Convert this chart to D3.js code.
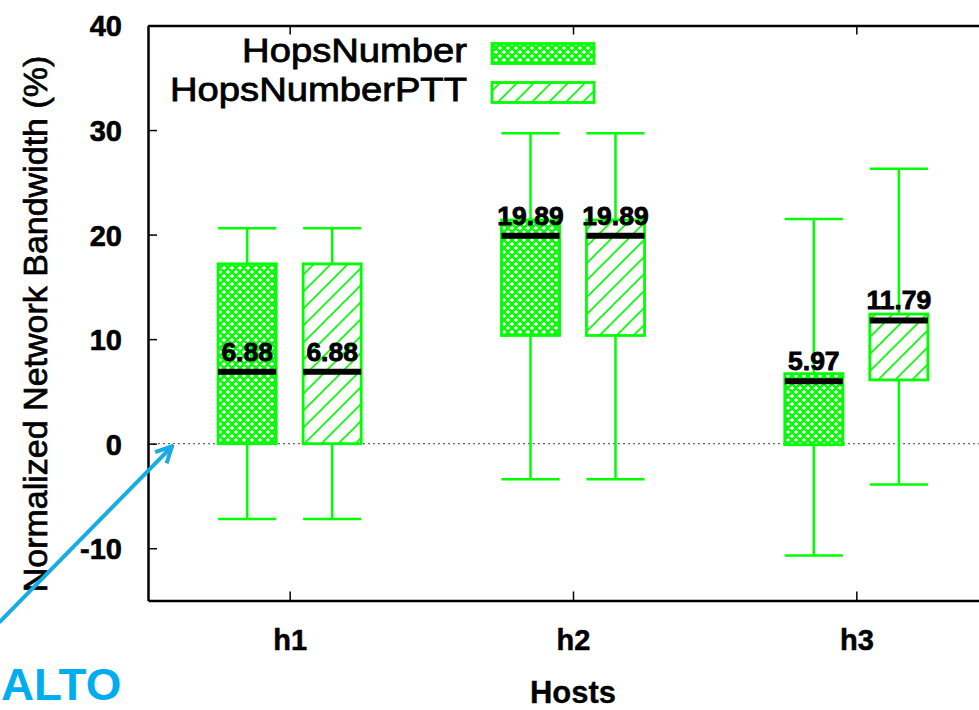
<!DOCTYPE html>
<html>
<head>
<meta charset="utf-8">
<script src="https://cdn.jsdelivr.net/npm/d3@7"></script>
<style>
  body { margin: 0; background: #fff; }
  text { font-family: "Liberation Sans", Arial, sans-serif; }
</style>
</head>
<body>
<svg id="chart" width="979" height="710"></svg>
<script>
// data
const hosts = ["h1", "h2", "h3"];
const seriesNames = ["HopsNumber", "HopsNumberPTT"];
const yTicks = [-10, 0, 10, 20, 30, 40];

const hopsLow    = [-7.2, -3.4, -10.7];
const hopsQ1     = [0.0, 10.35, -0.1];
const hopsMedian = [6.88, 19.89, 5.97];
const hopsQ3     = [17.2, 21.4, 6.7];
const hopsHigh   = [20.6, 29.7, 21.5];

const pttLow    = [-7.2, -3.4, -3.9];
const pttQ1     = [0.0, 10.35, 6.1];
const pttMedian = [6.88, 19.89, 11.79];
const pttQ3     = [17.2, 21.4, 12.4];
const pttHigh   = [20.6, 29.7, 26.3];

const green = "#00ff00";
const svg = d3.select("#chart");

const x = d3.scaleLinear().domain([0.5, 3.5]).range([148, 998]);
const y = d3.scaleLinear().domain([-15, 40]).range([600.5, 25.5]);

const boxW = 0.205, offset = 0.15;

// heavier text like the gnuplot png renderer
const heavy = (sel, w) => sel.attr("stroke", "currentColor").attr("stroke-width", w).attr("paint-order", "stroke");

// patterns
const defs = svg.append("defs");
const cross = defs.append("pattern")
    .attr("id", "cross").attr("patternUnits", "userSpaceOnUse")
    .attr("width", 8).attr("height", 8);
cross.append("rect").attr("width", 8).attr("height", 8).attr("fill", "#fff");
cross.append("path")
    .attr("d", "M-2,2 L2,-2 M0,8 L8,0 M6,10 L10,6 M-2,6 L2,10 M0,0 L8,8 M6,-2 L10,2")
    .attr("stroke", green).attr("stroke-width", 2.6);

const diag = defs.append("pattern")
    .attr("id", "diag").attr("patternUnits", "userSpaceOnUse")
    .attr("width", 17).attr("height", 17);
diag.append("rect").attr("width", 17).attr("height", 17).attr("fill", "#fff");
diag.append("path")
    .attr("d", "M0,17 L17,0 M-4,4 L4,-4 M13,21 L21,13")
    .attr("stroke", green).attr("stroke-width", 1.6);

defs.append("marker")
    .attr("id", "arrowhead").attr("markerUnits", "userSpaceOnUse")
    .attr("viewBox", "0 0 20 20").attr("refX", 18).attr("refY", 10)
    .attr("markerWidth", 20).attr("markerHeight", 20).attr("orient", "auto")
  .append("path")
    .attr("d", "M2,2 L18,10 L2,18")
    .attr("fill", "none").attr("stroke", "#17ace6").attr("stroke-width", 4);

// zero line
svg.append("line")
    .attr("x1", x(0.5)).attr("x2", 979)
    .attr("y1", y(0)).attr("y2", y(0))
    .attr("stroke", "#666").attr("stroke-width", 1.2)
    .attr("stroke-dasharray", "2,3");

// boxes
const rows = [];
hosts.forEach((h, i) => {
  rows.push({ host: i + 1, dx: -offset, fill: "url(#cross)", low: hopsLow[i], q1: hopsQ1[i], med: hopsMedian[i], q3: hopsQ3[i], high: hopsHigh[i] });
  rows.push({ host: i + 1, dx: offset, fill: "url(#diag)", low: pttLow[i], q1: pttQ1[i], med: pttMedian[i], q3: pttQ3[i], high: pttHigh[i] });
});

const bw = x(1 + boxW) - x(1);
const box = svg.append("g").selectAll("g").data(rows).join("g");

box.append("line")
    .attr("x1", d => x(d.host + d.dx)).attr("x2", d => x(d.host + d.dx))
    .attr("y1", d => y(d.high)).attr("y2", d => y(d.low))
    .attr("stroke", green).attr("stroke-width", 2.5);
box.selectAll(".cap").data(d => [d.low, d.high].map(v => ({ v, d }))).join("line")
    .attr("x1", e => x(e.d.host + e.d.dx) - bw / 2).attr("x2", e => x(e.d.host + e.d.dx) + bw / 2)
    .attr("y1", e => y(e.v)).attr("y2", e => y(e.v))
    .attr("stroke", green).attr("stroke-width", 2.5);
box.append("rect")
    .attr("x", d => x(d.host + d.dx) - bw / 2).attr("width", bw)
    .attr("y", d => y(d.q3)).attr("height", d => y(d.q1) - y(d.q3))
    .attr("fill", d => d.fill)
    .attr("stroke", green).attr("stroke-width", 2.8);
box.append("line")
    .attr("x1", d => x(d.host + d.dx) - bw / 2).attr("x2", d => x(d.host + d.dx) + bw / 2)
    .attr("y1", d => y(d.med)).attr("y2", d => y(d.med))
    .attr("stroke", "#000").attr("stroke-width", 6);
box.append("text")
    .attr("transform", d => `translate(${x(d.host + d.dx)},${y(d.med) - 11}) scale(1.06,1)`)
    .attr("text-anchor", "middle")
    .style("font-size", "25px").style("font-weight", "bold")
    .text(d => d.med.toFixed(2))
    .call(heavy, 0.8);

// axes
const axisLeft = svg.append("g")
    .attr("transform", `translate(${x(0.5)},0)`)
    .call(d3.axisLeft(y).tickValues(yTicks).tickFormat(d => String(d)).tickSize(-9).tickSizeOuter(0).tickPadding(26));
axisLeft.selectAll("text").style("font-size", "29px").style("font-weight", "bold").attr("dy", "0.36em").call(heavy, 0.6);

const axisBottom = svg.append("g")
    .attr("transform", `translate(0,${y(-15)})`)
    .call(d3.axisBottom(x).tickValues([1, 2, 3]).tickFormat(i => hosts[i - 1]).tickSize(-9).tickSizeOuter(0).tickPadding(29));
axisBottom.selectAll("text").style("font-size", "29px").style("font-weight", "bold").call(heavy, 0.5);

svg.append("g")
    .attr("transform", `translate(0,${y(40)})`)
    .call(d3.axisTop(x).tickValues([1, 2, 3]).tickFormat("").tickSize(-9).tickSizeOuter(0));

svg.selectAll(".domain").attr("stroke", "#000").attr("stroke-width", 2.5);
svg.selectAll(".tick line").attr("stroke", "#000").attr("stroke-width", 1.5);

// axis titles
svg.append("text")
    .attr("transform", "translate(47,324) rotate(-90)")
    .attr("text-anchor", "middle")
    .style("font-size", "34px")
    .text("Normalized Network Bandwidth (%)")
    .call(heavy, 0.7);

svg.append("text")
    .attr("x", x(2)).attr("y", 703)
    .attr("text-anchor", "middle")
    .style("font-size", "31px").style("font-weight", "bold")
    .text("Hosts")
    .call(heavy, 0.3);

// legend
const legend = svg.append("g").selectAll("g")
    .data(seriesNames.map((name, i) => ({ name, fill: i === 0 ? "url(#cross)" : "url(#diag)", i })))
    .join("g")
    .attr("transform", d => `translate(0,${d.i * 39})`);
legend.append("text")
    .attr("transform", "translate(467,62) scale(1.14,1)")
    .attr("text-anchor", "end")
    .style("font-size", "33.5px")
    .text(d => d.name)
    .call(heavy, 0.8);
legend.append("rect")
    .attr("x", 492).attr("y", 43.5).attr("width", 102).attr("height", 20)
    .attr("fill", d => d.fill)
    .attr("stroke", green).attr("stroke-width", 2.8);

// annotation arrow + logo
svg.append("line")
    .attr("x1", x(-0.025)).attr("y1", y(-17.1))
    .attr("x2", x(0.585)).attr("y2", y(-0.25))
    .attr("stroke", "#17ace6").attr("stroke-width", 4)
    .attr("marker-end", "url(#arrowhead)");

svg.append("text")
    .attr("transform", "translate(1,700) scale(1.04,1)")
    .attr("fill", "#00aeef")
    .style("font-size", "44px").style("font-weight", "bold")
    .text("ALTO");
</script>
</body>
</html>
